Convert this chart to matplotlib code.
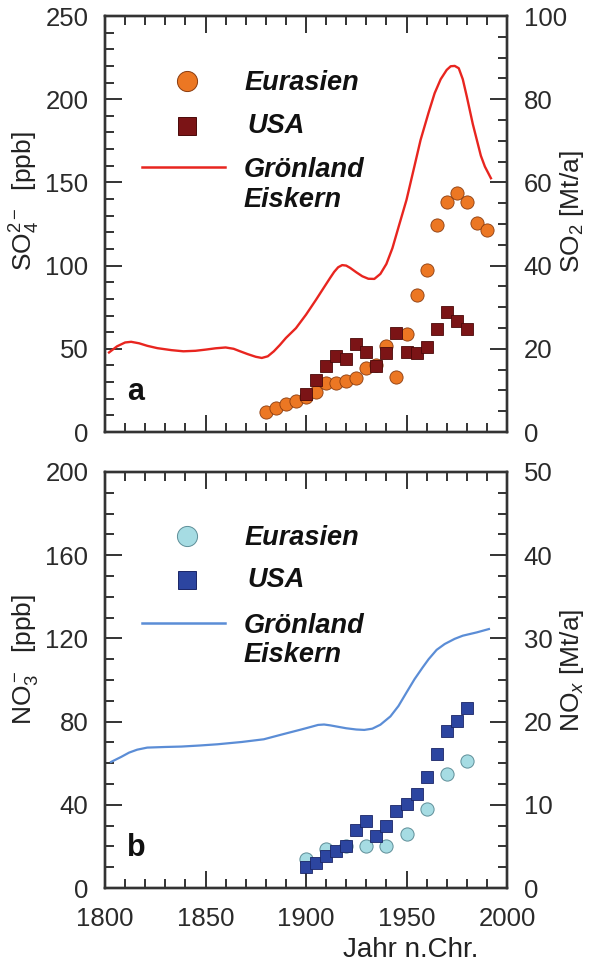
import matplotlib
matplotlib.use("Agg")
import matplotlib.pyplot as plt
from matplotlib.ticker import MultipleLocator

plt.rcParams['font.family'] = ['Liberation Sans', 'DejaVu Sans']
plt.rcParams['mathtext.fontset'] = 'custom'
plt.rcParams['mathtext.rm'] = 'Liberation Sans'
plt.rcParams['mathtext.it'] = 'Liberation Sans:italic'
plt.rcParams['mathtext.bf'] = 'Liberation Sans:bold'

# ---------------- data: panel a (sulfate) ----------------
so4_eur_years = [1880, 1885, 1890, 1895, 1900, 1905, 1910, 1915, 1920, 1925, 1930, 1935,
                 1940, 1945, 1950, 1955, 1960, 1965, 1970, 1975, 1980, 1985, 1990]
so4_eur = [12.0, 14.2, 17.0, 18.4, 21.0, 24.3, 29.4, 29.4, 30.4, 32.4, 38.4, 40.0,
           51.4, 33.0, 58.8, 82.1, 97.1, 124.5, 138.5, 143.9, 138.1, 125.9, 121.1]
so4_usa_years = [1900, 1905, 1910, 1915, 1920, 1925, 1930, 1935, 1940, 1945, 1950,
                 1955, 1960, 1965, 1970, 1975, 1980]
so4_usa = [22.8, 31.4, 39.8, 45.8, 43.8, 52.8, 48.0, 39.4, 47.4, 59.4, 47.8,
           47.4, 50.8, 61.8, 72.1, 67.0, 61.8]
so4_core_years = [1802, 1806, 1810, 1813, 1817, 1821, 1826, 1833, 1839, 1845, 1850, 1855,
                  1860, 1864, 1867, 1871, 1875, 1878, 1881, 1884, 1887, 1890, 1895,
                  1900, 1905, 1909, 1912, 1914, 1916, 1918, 1920, 1922, 1925, 1928,
                  1931, 1934, 1937, 1940, 1943, 1946, 1950, 1954, 1957, 1961,
                  1964, 1967, 1970, 1972, 1974, 1976, 1978, 1980, 1983, 1985, 1987,
                  1989, 1992]
so4_core = [47.8, 51.5, 53.8, 54.2, 53.3, 51.8, 50.4, 49.2, 48.5, 48.8, 49.5, 50.3,
            50.8, 50.0, 48.6, 46.8, 45.2, 44.5, 45.5, 48.5, 52.3, 56.5, 62.4,
            70.5, 79.5, 87.0, 92.6, 96.2, 99.0, 100.3, 100.0, 98.6, 96.0, 93.6,
            92.1, 92.0, 95.0, 101.0, 110.5, 123.0, 139.5, 160.0, 175.5, 192.0,
            203.6, 212.0, 217.6, 219.8, 220.0, 218.6, 212.0, 201.6, 185.0, 175.5, 166.0,
            159.5, 152.5]

# ---------------- data: panel b (nitrate) ----------------
no3_eur_years = [1900, 1910, 1920, 1930, 1940, 1950, 1960, 1970, 1980]
no3_eur = [14.0, 18.6, 20.4, 20.4, 20.4, 26.2, 37.8, 54.6, 61.0]
no3_usa_years = [1900, 1905, 1910, 1915, 1920, 1925, 1930, 1935, 1940, 1945, 1950,
                 1955, 1960, 1965, 1970, 1975, 1980]
no3_usa = [10.1, 12.0, 15.3, 17.7, 20.1, 28.1, 32.1, 25.2, 29.7, 36.9, 40.2,
           45.0, 53.3, 64.6, 75.5, 80.3, 86.3]
no3_core_years = [1803, 1808, 1812, 1816, 1821, 1830, 1838, 1847, 1856, 1868, 1879,
                  1888, 1898, 1903, 1906, 1909, 1912, 1916, 1920, 1925, 1929, 1933,
                  1937, 1942, 1946, 1950, 1954, 1958, 1961, 1965, 1969, 1974, 1978,
                  1985, 1991]
no3_core = [60.6, 63.0, 65.1, 66.5, 67.5, 67.8, 68.0, 68.5, 69.1, 70.2, 71.5,
            73.8, 76.3, 77.6, 78.4, 78.6, 78.2, 77.5, 76.8, 76.2, 76.0, 76.6,
            78.5, 82.5, 87.5, 94.0, 100.4, 106.0, 110.0, 114.5, 117.3, 119.8, 121.3,
            122.9, 124.5]

legend_labels = ["Eurasien", "USA", "Grönland", "Eiskern"]

SPINE = '#333333'
fig = plt.figure(figsize=(5.89, 9.64), dpi=100)

ax_a = fig.add_axes([105/589, 1 - 432/964, 402/589, 416/964])
ax_b = fig.add_axes([105/589, 1 - 888/964, 402/589, 416/964])


def style_axes(ax, ymax, ymaj, ymin, show_x):
    ax.set_xlim(1800, 2000)
    ax.set_ylim(0, ymax)
    ax.xaxis.set_major_locator(MultipleLocator(50))
    ax.xaxis.set_minor_locator(MultipleLocator(10))
    ax.yaxis.set_major_locator(MultipleLocator(ymaj))
    ax.yaxis.set_minor_locator(MultipleLocator(ymin))
    ax.tick_params(axis='both', which='both', direction='in', color=SPINE,
                   labelcolor='#2a2a2a', labelsize=18.5)
    ax.tick_params(axis='x', which='both', top=True, bottom=True, labelbottom=show_x)
    ax.tick_params(axis='y', which='both', left=True, right=False)
    ax.tick_params(which='major', length=12, width=1.4)
    ax.tick_params(which='minor', length=6.5, width=1.4)
    ax.tick_params(axis='y', pad=12)
    ax.tick_params(axis='x', pad=14)
    for s in ax.spines.values():
        s.set_linewidth(1.7)
        s.set_color(SPINE)


def style_twin(tw, ymax, ymaj, ymin):
    tw.set_ylim(0, ymax)
    tw.yaxis.set_major_locator(MultipleLocator(ymaj))
    tw.yaxis.set_minor_locator(MultipleLocator(ymin))
    tw.tick_params(axis='y', which='both', direction='in', color=SPINE,
                   labelcolor='#2a2a2a', labelsize=18.5, pad=12)
    tw.tick_params(which='major', length=12, width=1.4)
    tw.tick_params(which='minor', length=6.5, width=1.4)
    for s in tw.spines.values():
        s.set_linewidth(1.7)
        s.set_color(SPINE)


style_axes(ax_a, 250, 50, 10, False)
style_axes(ax_b, 200, 40, 10, True)
tw_a = ax_a.twinx()
tw_b = ax_b.twinx()
style_twin(tw_a, 100, 20, 5)
style_twin(tw_b, 50, 10, 2.5)

# colours
c_org, c_org_e = '#EC7723', '#8A3B0E'
c_dred, c_dred_e = '#7B1416', '#4A0808'
c_red = '#E8251F'
c_lb, c_lb_e = '#A6DCE3', '#5E8E98'
c_blue, c_blue_e = '#2C45A0', '#1A2566'
c_lline = '#5B8DD6'

# panel a
ax_a.plot(so4_core_years, so4_core, color=c_red, lw=1.7, zorder=2)
ax_a.plot(so4_eur_years, so4_eur, 'o', ms=9.5, mfc=c_org, mec=c_org_e, mew=0.6, zorder=3)
ax_a.plot(so4_usa_years, so4_usa, 's', ms=8.5, mfc=c_dred, mec=c_dred_e, mew=0.6, zorder=4)

# panel b
ax_b.plot(no3_core_years, no3_core, color=c_lline, lw=1.6, zorder=2)
ax_b.plot(no3_eur_years, no3_eur, 'o', ms=9.5, mfc=c_lb, mec=c_lb_e, mew=0.7, zorder=3)
ax_b.plot(no3_usa_years, no3_usa, 's', ms=8.5, mfc=c_blue, mec=c_blue_e, mew=0.6, zorder=4)


def draw_legend(ax, cols, ys):
    (mc, me), (sc, se), lc = cols
    tr = ax.transAxes
    ax.plot([0.204], [ys[0]], 'o', ms=14.5, mfc=mc, mec=me, mew=0.7, transform=tr, clip_on=False)
    ax.plot([0.204], [ys[1]], 's', ms=13.5, mfc=sc, mec=se, mew=0.7, transform=tr, clip_on=False)
    ax.plot([0.092, 0.299], [ys[2], ys[2]], color=lc, lw=1.8, transform=tr)
    kw = dict(transform=tr, fontsize=19.5, fontweight='bold', fontstyle='italic',
              color='#111111', va='center', ha='left')
    ax.text(0.348, ys[0] - 0.005, legend_labels[0], **kw)
    ax.text(0.354, ys[1], legend_labels[1], **kw)
    ax.text(0.344, ys[2] - 0.006, legend_labels[2], **kw)
    ax.text(0.344, ys[3], legend_labels[3], **kw)


draw_legend(ax_a, ((c_org, c_org_e), (c_dred, c_dred_e), c_red), [0.844, 0.736, 0.637, 0.558])
draw_legend(ax_b, ((c_lb, c_lb_e), (c_blue, c_blue_e), c_lline), [0.846, 0.740, 0.636, 0.560])

ax_a.text(0.077, 0.096, 'a', transform=ax_a.transAxes, fontsize=22, fontweight='bold',
          ha='center', va='center', color='#111111')
ax_b.text(0.077, 0.096, 'b', transform=ax_b.transAxes, fontsize=22, fontweight='bold',
          ha='center', va='center', color='#111111')

# axis labels
lab_kw = dict(fontsize=19, color='#222222', rotation=90, va='center', ha='center',
              rotation_mode='default')
ax_a.set_ylabel(r'SO$_4^{2-}$  [ppb]', **lab_kw)
ax_a.yaxis.set_label_coords(-0.199, 0.555)
tw_a.set_ylabel(r'SO$_2$ [Mt/a]', **lab_kw)
tw_a.yaxis.set_label_coords(1.162, 0.53)
ax_b.set_ylabel(r'NO$_3^-$  [ppb]', **lab_kw)
ax_b.yaxis.set_label_coords(-0.199, 0.548)
tw_b.set_ylabel(r'NO$_x$ [Mt/a]', **lab_kw)
tw_b.yaxis.set_label_coords(1.162, 0.522)

ax_b.set_xlabel('Jahr n.Chr.', fontsize=20, color='#222222', ha='center', va='center')
ax_b.xaxis.set_label_coords(0.761, -0.149)

fig.savefig('out.png', dpi=100)
